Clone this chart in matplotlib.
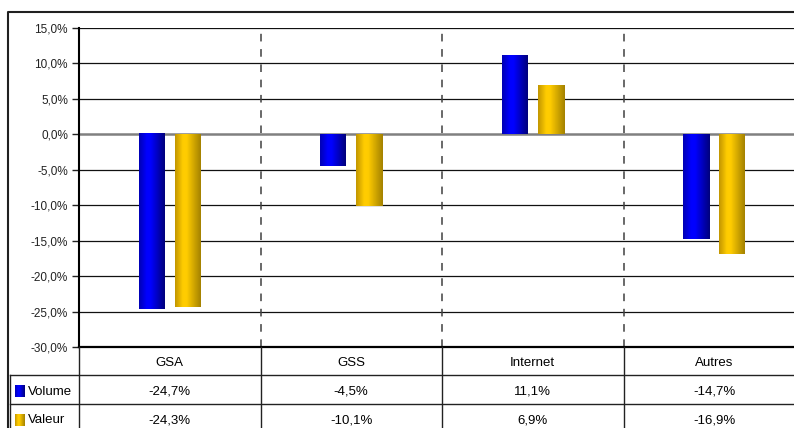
import numpy as np
import matplotlib.pyplot as plt
from matplotlib.colors import LinearSegmentedColormap
from matplotlib.lines import Line2D

plt.rcParams["font.family"] = ["Liberation Sans", "DejaVu Sans"]

categories = ["GSA", "GSS", "Internet", "Autres"]
volume = [-24.7, -4.5, 11.1, -14.7]
valeur = [-24.3, -10.1, 6.9, -16.9]
series_names = ["Volume", "Valeur"]
yticks = [15, 10, 5, 0, -5, -10, -15, -20, -25, -30]

W, H = 794, 428
fig = plt.figure(figsize=(W / 100, H / 100), dpi=100)


def fx(px):
    return px / W


def fy(py):
    return 1 - py / H


# cylinder-like shading for the bars
blue_cm = LinearSegmentedColormap.from_list(
    "b", [(0, "#0000b4"), (0.3, "#0000ff"), (0.45, "#0000ff"), (1, "#00007c")])
gold_cm = LinearSegmentedColormap.from_list(
    "g", [(0, "#c29600"), (0.3, "#ffcc00"), (0.45, "#ffcc00"), (1, "#a48200")])
grad = np.linspace(0, 1, 64).reshape(1, -1)

cat_px = 181.5
ax = fig.add_axes([fx(79), fy(347), (cat_px * 4) / W, fy(28) - fy(347)])
x = np.arange(len(categories))
off = 18 / cat_px
bw = 26 / cat_px

b1 = ax.bar(x - off, volume, bw, color="none", zorder=3)
b2 = ax.bar(x + off, valeur, bw, color="none", zorder=3)
for bars, cm in [(b1, blue_cm), (b2, gold_cm)]:
    for p in bars:
        bb = p.get_bbox()
        ax.imshow(grad, extent=(bb.x0, bb.x1, bb.y0, bb.y1), aspect="auto",
                  cmap=cm, zorder=3, interpolation="bilinear")

ax.set_xlim(-0.5, 3.5)
ax.set_ylim(-30, 15)
ax.set_yticks(yticks)
ax.set_yticklabels([f"{v:.1f}%".replace(".", ",") for v in yticks], fontsize=8.5)
ax.set_xticks([])
ax.tick_params(axis="y", length=5, width=1, pad=3, colors="#222222")
for s in ["top", "right"]:
    ax.spines[s].set_visible(False)
ax.spines["left"].set_linewidth(1.5)
ax.spines["bottom"].set_linewidth(1.6)
ax.spines["bottom"].set_zorder(5)

for t in yticks:
    if t in (0, -30):
        continue
    ax.axhline(t, color="#111111", lw=0.9, zorder=1)
ax.axhline(0, color="#808080", lw=1.8, zorder=2)
for b in [0.5, 1.5, 2.5]:
    ax.axvline(b, color="#404040", lw=1.1, ls=(0, (5, 5)), zorder=1)

# data table below the plot
tab = fig.add_axes([fx(79), fy(432), (cat_px * 4) / W, fy(347) - fy(432)])
tab.axis("off")
left = -0.5 - (79 - 10) / cat_px
lc = "#222222"
for b in [-0.5, 0.5, 1.5, 2.5]:
    tab.add_line(Line2D([b, b], [0, 3], color=lc, lw=1, clip_on=False))
tab.add_line(Line2D([left, left], [1, 3], color=lc, lw=1, clip_on=False))
for r in [1, 2]:
    tab.add_line(Line2D([left, 3.5], [r, r], color=lc, lw=1, clip_on=False))

for i, c in enumerate(categories):
    tab.text(i, 0.56, c, ha="center", va="center", fontsize=9.5)
for r, vals in enumerate([volume, valeur], start=1):
    for i, v in enumerate(vals):
        tab.text(i, r + 0.58, f"{v:.1f}%".replace(".", ","),
                 ha="center", va="center", fontsize=9.5)

sw = 10 / cat_px
for r, (name, cm) in enumerate(zip(series_names, [blue_cm, gold_cm]), start=1):
    x0 = left + 5 / cat_px
    tab.imshow(grad, extent=(x0, x0 + sw, r + 0.78, r + 0.39), aspect="auto",
               cmap=cm, clip_on=False, interpolation="bilinear")
    tab.text(left + 18 / cat_px, r + 0.58, name, ha="left", va="center",
             fontsize=9.5)
tab.set_xlim(-0.5, 3.5)
tab.set_ylim(3, 0)

# outer chart frame
fig.add_artist(Line2D([fx(8), fx(8), 1], [0, fy(12), fy(12)],
                      transform=fig.transFigure, color="#202020", lw=1.5))

fig.savefig("out.png", dpi=100)
